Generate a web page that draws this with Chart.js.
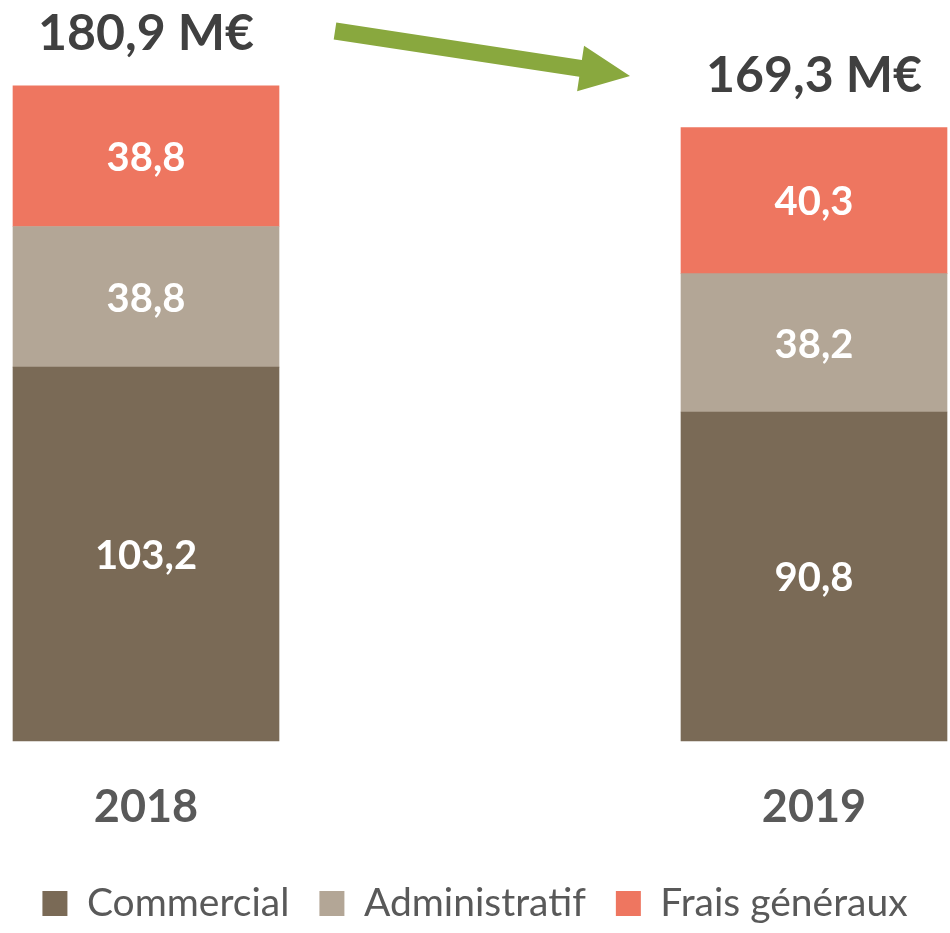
<!DOCTYPE html>
<html>
<head>
<meta charset="utf-8">
<script src="https://cdn.jsdelivr.net/npm/chart.js@4.4.0/dist/chart.umd.min.js"></script>
<style>
html,body{margin:0;padding:0;background:#fff;}
#wrap{width:950px;height:933px;position:relative;}
</style>
</head>
<body>
<div id="wrap"><canvas id="c" width="950" height="933"></canvas></div>
<script>
const categories = ["2018", "2019"];
const commercial = [103.2, 90.8];
const administratif = [38.8, 38.2];
const fraisGeneraux = [38.8, 40.3];
const totalLabels = ["180,9 M€", "169,3 M€"];
const seriesNames = ["Commercial", "Administratif", "Frais généraux"];
const seriesColors = ["#7A6A56", "#B3A696", "#EE7660"];

const fmt = v => v.toFixed(1).replace('.', ',');
const toPoints = arr => arr.map((v, i) => ({ x: i, y: v }));

const labelPlugin = {
  id: 'labels',
  afterDatasetsDraw(chart) {
    const ctx = chart.ctx;
    ctx.save();
    ctx.textAlign = 'center';
    ctx.textBaseline = 'middle';
    ctx.fillStyle = '#FFFFFF';
    ctx.font = 'bold 40px Lato';
    chart.data.datasets.forEach((ds, di) => {
      const meta = chart.getDatasetMeta(di);
      meta.data.forEach((bar, i) => {
        const y = (bar.y + bar.base) / 2;
        ctx.fillText(fmt(ds.data[i].y), bar.x, y + 2);
      });
    });
    // totals above the stack
    const last = chart.getDatasetMeta(chart.data.datasets.length - 1);
    ctx.fillStyle = '#404040';
    ctx.font = 'bold 50px Lato';
    last.data.forEach((bar, i) => {
      ctx.fillText(totalLabels[i], bar.x, bar.y - 52);
    });
    // green arrow
    const x0 = 335, y0 = 31, x1 = 630, y1 = 76;
    const dx = x1 - x0, dy = y1 - y0, L = Math.hypot(dx, dy);
    const ux = dx / L, uy = dy / L, nx = -uy, ny = ux;
    const sw = 8.5, hl = 50, hw = 23;
    const bx = x1 - ux * hl, by = y1 - uy * hl;
    ctx.fillStyle = '#89A83E';
    ctx.beginPath();
    ctx.moveTo(x0 + nx * sw, y0 + ny * sw);
    ctx.lineTo(bx + nx * sw, by + ny * sw);
    ctx.lineTo(bx + nx * hw, by + ny * hw);
    ctx.lineTo(x1, y1);
    ctx.lineTo(bx - nx * hw, by - ny * hw);
    ctx.lineTo(bx - nx * sw, by - ny * sw);
    ctx.lineTo(x0 - nx * sw, y0 - ny * sw);
    ctx.closePath();
    ctx.fill();
    ctx.restore();
  }
};

new Chart(document.getElementById('c'), {
  type: 'bar',
  data: {
    datasets: [
      { label: seriesNames[0], data: toPoints(commercial), backgroundColor: seriesColors[0] },
      { label: seriesNames[1], data: toPoints(administratif), backgroundColor: seriesColors[1] },
      { label: seriesNames[2], data: toPoints(fraisGeneraux), backgroundColor: seriesColors[2] }
    ]
  },
  options: {
    responsive: false,
    animation: false,
    layout: { padding: 0 },
    datasets: { bar: { barThickness: 266, clip: false, borderWidth: 0 } },
    scales: {
      x: {
        type: 'linear',
        offset: false,
        stacked: true,
        min: -0.21856,
        max: 1.20359,
        grid: { display: false, drawTicks: false, offset: false },
        border: { display: false },
        afterBuildTicks: (axis) => { axis.ticks = categories.map((_, i) => ({ value: i })); },
        afterFit: (axis) => { axis.height = 113; },
        ticks: {
          padding: 39, color: '#595959', autoSkip: false, maxRotation: 0,
          font: { family: 'Lato', weight: 'bold', size: 45 },
          callback: (value) => categories[value]
        }
      },
      y: {
        stacked: true,
        display: false,
        min: 0,
        max: 204.5
      }
    },
    plugins: {
      legend: {
        position: 'bottom',
        labels: {
          boxWidth: 25, boxHeight: 25, padding: 30,
          color: '#595959',
          font: { family: 'Lato', size: 39 }
        }
      },
      tooltip: { enabled: false }
    }
  },
  plugins: [labelPlugin]
});
</script>
</body>
</html>
